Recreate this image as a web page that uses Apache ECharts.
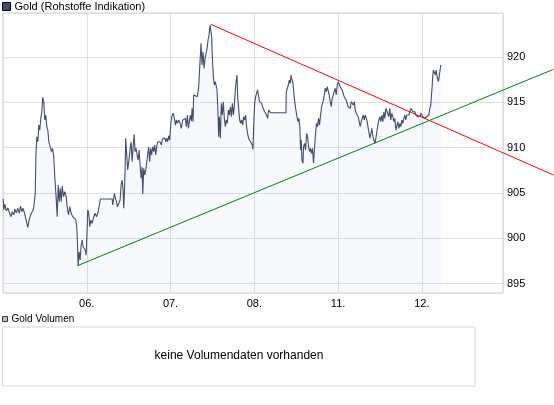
<!DOCTYPE html>
<html>
<head>
<meta charset="utf-8">
<script src="https://cdn.jsdelivr.net/npm/echarts@6/dist/echarts.min.js"></script>
<style>
html,body{margin:0;padding:0;background:#fff;}
#chart{width:554px;height:405px;}
</style>
</head>
<body>
<div id="chart"></div>
<script>
// x tick labels (trading days)
var dayTicks = ['05.', '06.', '07.', '08.', '11.', '12.'];
var yTicks = [895, 900, 905, 910, 915, 920];

// time in trading days since start of 05.
var times = [
0.003,0.010,0.022,0.039,0.058,0.078,0.094,0.110,0.129,0.141,0.158,0.177,0.194,0.209,0.225,0.241,0.257,0.281,0.296,0.313,
0.337,0.356,0.368,0.385,0.392,0.404,0.416,0.428,0.439,0.451,0.463,0.475,0.487,0.499,0.511,0.523,0.535,0.547,0.567,0.579,
0.591,0.606,0.618,0.635,0.647,0.659,0.671,0.683,0.695,0.707,0.722,0.738,0.754,0.766,0.782,0.797,0.814,0.833,0.850,0.869,
0.881,0.889,0.897,0.909,0.921,0.933,0.945,0.957,0.969,0.981,0.993,1.005,1.012,1.024,1.036,1.048,1.064,1.083,1.100,1.116,
1.131,1.151,1.163,1.303,
1.310,1.330,1.342,1.354,1.366,1.382,1.398,1.410,1.422,1.434,1.441,1.450,1.458,1.465,1.477,1.489,1.501,1.518,1.530,1.541,
1.553,1.565,1.577,1.589,1.601,1.613,1.625,1.637,1.649,1.661,1.668,1.680,1.692,1.704,1.716,1.727,1.739,1.751,1.763,1.775,
1.787,1.799,1.811,1.823,1.835,1.847,1.859,1.875,1.891,1.903,1.918,1.930,1.942,1.954,1.966,1.978,1.990,2.002,2.014,2.030,
2.042,2.058,2.070,2.082,2.097,2.114,2.129,2.145,2.162,2.177,2.189,2.201,2.213,2.225,2.237,2.249,2.257,2.269,2.276,2.288,
2.320,2.336,2.352,2.364,2.376,2.388,2.400,2.412,2.424,2.436,2.448,2.460,2.472,2.484,2.491,2.499,2.511,2.523,2.535,
2.555,2.567,2.574,2.583,2.595,2.606,2.618,2.630,2.642,2.654,2.666,2.678,2.690,2.702,2.714,2.726,2.738,2.750,2.761,2.773,
2.785,2.794,2.801,2.813,2.825,2.837,2.849,2.861,2.872,2.884,2.896,2.908,2.920,2.932,2.944,2.956,2.968,2.976,2.984,2.992,
3.004,3.016,3.027,3.039,3.051,3.063,3.075,3.087,3.099,3.111,3.123,3.135,3.147,3.159,3.171,3.183,3.194,3.378,3.382,3.394,
3.406,3.418,3.429,3.438,3.450,3.462,3.473,3.485,3.497,3.509,3.521,3.533,3.545,3.552,3.560,3.569,3.581,3.588,3.600,3.612,
3.624,3.636,3.648,3.660,3.671,3.683,3.695,3.707,3.719,3.731,3.743,3.755,3.767,3.779,3.791,3.803,3.815,3.826,3.838,
3.847,3.859,3.871,3.883,3.894,3.906,3.918,3.930,3.942,3.954,3.966,3.978,3.990,4.002,4.014,4.026,4.038,4.049,4.061,4.073,
4.085,4.097,4.109,4.121,4.133,4.145,4.157,4.169,4.181,4.193,4.205,4.217,4.228,4.240,4.252,4.264,4.276,4.288,4.300,4.312,
4.324,4.336,4.348,4.360,4.371,4.380,4.392,4.404,4.416,4.428,4.440,4.451,4.463,4.475,4.487,4.499,4.511,4.523,4.535,4.547,
4.559,4.571,4.583,4.594,4.606,4.618,4.630,4.642,4.654,4.666,4.678,4.690,4.702,4.714,4.726,4.738,4.750,4.761,4.773,4.785,
4.797,4.809,4.821,4.833,4.845,4.857,4.869,4.881,4.893,4.905,4.917,4.928,4.940,4.952,4.964,4.976,4.988,5.000,5.012,5.024,
5.036,5.048,5.060,5.072,5.084,5.095,5.107,5.115,5.123,5.131,5.138,5.150,5.162,5.170,5.182,5.198,5.209,5.227
];

// gold price (USD)
var prices = [
904.33,903.11,903.77,903.03,903.33,902.78,902.37,902.92,902.56,903.22,902.81,903.30,902.75,903.55,902.92,903.30,902.75,901.82,901.20,902.09,
902.75,903.03,903.48,904.96,909.00,911.20,910.65,912.49,911.94,913.23,913.96,915.55,915.07,913.05,913.60,912.31,911.94,910.65,910.54,909.55,
909.92,909.00,906.79,904.40,902.37,905.87,904.03,905.51,904.03,905.76,904.58,905.13,904.58,903.48,902.56,903.48,902.75,902.37,902.56,902.01,
901.27,899.44,896.93,898.51,897.59,899.25,899.80,899.06,899.25,898.70,898.14,901.27,903.11,902.75,901.27,902.01,901.64,902.37,902.75,902.37,
902.75,903.66,904.33,904.33,
903.66,904.96,904.40,904.03,903.48,903.30,904.22,905.87,906.42,905.32,903.30,905.13,907.71,911.03,909.18,907.53,908.44,909.92,910.65,908.44,
909.92,911.47,909.55,909.92,909.18,908.63,909.73,908.08,906.61,907.89,904.85,907.71,906.98,907.53,907.34,909.18,910.10,908.44,909.92,909.18,
910.10,909.55,910.29,909.18,910.10,910.65,910.47,910.65,910.29,910.95,910.73,911.09,910.65,911.03,910.65,911.31,910.84,912.49,913.41,913.79,
913.41,912.49,913.05,912.68,913.05,912.68,912.13,913.05,912.86,913.23,912.31,913.60,912.13,912.86,913.60,912.94,914.34,912.86,915.81,915.62,
915.62,916.72,916.91,921.51,919.12,920.59,918.75,919.86,920.03,920.96,921.88,922.43,923.53,923.61,922.24,920.03,917.83,916.91,917.27,
916.36,913.79,911.20,913.41,911.03,914.89,913.60,915.07,913.23,912.31,913.05,912.68,914.15,913.60,914.51,913.41,914.89,913.60,914.51,916.36,
917.46,918.01,915.81,914.34,913.05,912.68,913.05,912.49,913.41,913.05,913.60,912.31,911.58,911.03,910.84,910.65,910.84,910.29,909.81,912.31,
914.89,915.62,915.99,916.36,916.17,915.07,914.89,914.89,914.51,914.34,913.96,914.15,913.60,913.23,914.15,913.96,913.85,913.85,916.17,916.36,
916.91,917.46,917.10,918.01,917.46,917.10,915.99,914.89,915.07,913.41,912.86,913.23,912.13,909.73,910.84,908.63,908.27,910.10,910.47,909.73,
911.58,911.20,910.10,909.55,909.92,909.37,909.92,908.27,909.92,911.58,912.68,912.31,913.23,912.49,913.60,914.51,914.89,915.25,915.99,
916.55,916.17,916.72,916.91,915.81,915.07,914.51,915.44,915.62,916.17,916.55,915.81,916.91,917.27,917.10,916.72,916.91,916.36,916.17,915.62,
915.81,915.25,915.07,914.51,914.70,914.34,915.07,915.25,914.70,915.07,914.15,913.79,913.96,913.41,912.86,912.31,912.86,913.23,913.60,913.05,
913.60,913.23,912.86,912.13,912.31,911.03,911.58,912.13,911.20,910.84,910.47,911.03,911.75,912.49,913.05,913.41,912.86,913.60,912.86,913.96,
913.23,914.34,914.51,914.15,913.41,914.34,913.05,913.79,913.41,912.86,913.23,911.94,911.75,912.86,912.13,912.68,912.31,913.05,912.68,913.23,
913.60,913.05,913.60,913.79,913.60,913.96,914.34,914.15,913.96,913.79,913.96,913.60,913.79,913.41,913.60,913.41,913.79,913.60,913.41,913.41,
913.23,913.05,913.41,913.23,913.60,914.34,914.70,915.81,916.72,918.01,918.57,918.71,918.01,918.57,917.90,917.27,918.01,919.12
];

// trend lines [time, price]
var redTrend = [[2.484, 923.61], [6.569, 906.98]];
var greenTrend = [[0.893, 896.96], [6.569, 918.64]];

var priceData = times.map(function (t, i) { return [t, prices[i]]; });

var FONT = 'Liberation Sans';
var Y_MIN = 893.95, Y_MAX = 924.86;
var X_MAX = 5.969;          // plot area right edge
var X_MAX_WIDE = 6.577;     // same scale, extended to the picture's right edge

var chart = echarts.init(document.getElementById('chart'), null, {renderer: 'canvas'});
chart.setOption({
  animation: false,
  backgroundColor: '#fff',
  legend: [{
    data: ['Gold (Rohstoffe Indikation)'],
    left: 2, top: 1, padding: 0,
    itemWidth: 8, itemHeight: 8, itemGap: 4,
    icon: 'rect',
    itemStyle: {borderColor: '#000', borderWidth: 1},
    textStyle: {fontSize: 11, color: '#000', fontFamily: FONT, padding: [0, 0, 0, -1]}
  }, {
    data: ['Gold Volumen'],
    left: 2, top: 314, padding: 0,
    itemWidth: 5, itemHeight: 5,
    icon: 'rect',
    itemStyle: {borderColor: '#333', borderWidth: 1},
    textStyle: {fontSize: 10, color: '#000', fontFamily: FONT, padding: [0, 0, 0, -1]}
  }],
  grid: [{
    left: 2.5, top: 13, width: 500.5, height: 280,
    show: true, borderColor: '#cfcfcf', borderWidth: 1, backgroundColor: '#fff'
  }, {
    left: 2.5, top: 327, width: 472.5, height: 59,
    show: true, borderColor: '#d9d9d9', borderWidth: 1, backgroundColor: '#fff'
  }, {
    left: 2.5, top: 13, width: 551.5, height: 280, show: false
  }],
  xAxis: [{
    type: 'value', gridIndex: 0,
    min: 0, max: X_MAX, interval: 1,
    axisLine: {show: false}, axisTick: {show: false},
    splitLine: {show: true, lineStyle: {color: '#dedede', width: 1}},
    axisLabel: {
      margin: 5, fontSize: 11, color: '#000', fontFamily: FONT,
      formatter: function (v) {
        var r = Math.round(v);
        if (Math.abs(v - r) > 1e-6 || r < 1 || r >= dayTicks.length) return '';
        return dayTicks[r];
      }
    }
  }, {
    type: 'value', gridIndex: 1, show: false, min: 0, max: 1
  }, {
    type: 'value', gridIndex: 2, show: false, min: 0, max: X_MAX_WIDE
  }],
  yAxis: [{
    type: 'value', gridIndex: 0, position: 'right',
    min: Y_MIN, max: Y_MAX, minInterval: 5, maxInterval: 5,
    axisLine: {show: false}, axisTick: {show: false},
    splitLine: {show: true, lineStyle: {color: '#dedede', width: 1}},
    axisLabel: {
      margin: 4, fontSize: 11, color: '#000', fontFamily: FONT,
      showMinLabel: false, showMaxLabel: false,
      formatter: function (v) { return yTicks.indexOf(Math.round(v)) >= 0 && Math.abs(v - Math.round(v)) < 1e-6 ? String(Math.round(v)) : ''; }
    }
  }, {
    type: 'value', gridIndex: 1, show: false, min: 0, max: 1
  }, {
    type: 'value', gridIndex: 2, show: false, min: Y_MIN, max: Y_MAX
  }],
  series: [{
    name: 'Gold (Rohstoffe Indikation)',
    type: 'line',
    xAxisIndex: 0, yAxisIndex: 0,
    data: priceData,
    showSymbol: false, symbol: 'none',
    color: '#434d6b',
    itemStyle: {color: '#434d6b'},
    lineStyle: {color: '#434d6b', width: 1.1},
    areaStyle: {color: 'rgba(190,198,232,0.18)', origin: 'start'},
    z: 2
  }, {
    name: 'red',
    type: 'line', xAxisIndex: 2, yAxisIndex: 2,
    data: redTrend, clip: false, symbol: 'none',
    lineStyle: {color: '#ff0000', width: 1}, itemStyle: {color: '#ff0000'},
    z: 3, silent: true
  }, {
    name: 'green',
    type: 'line', xAxisIndex: 2, yAxisIndex: 2,
    data: greenTrend, clip: false, symbol: 'none',
    lineStyle: {color: '#008000', width: 1}, itemStyle: {color: '#008000'},
    z: 3, silent: true
  }, {
    name: 'Gold Volumen',
    type: 'bar', xAxisIndex: 1, yAxisIndex: 1,
    data: [],
    itemStyle: {color: '#c0c0c0'}
  }],
  graphic: [{
    type: 'text',
    x: 239, y: 356,
    style: {
      text: 'keine Volumendaten vorhanden',
      font: '12px "Liberation Sans"',
      fill: '#000',
      align: 'center', verticalAlign: 'middle',
      textAlign: 'center', textVerticalAlign: 'middle'
    }
  }]
});
</script>
</body>
</html>
